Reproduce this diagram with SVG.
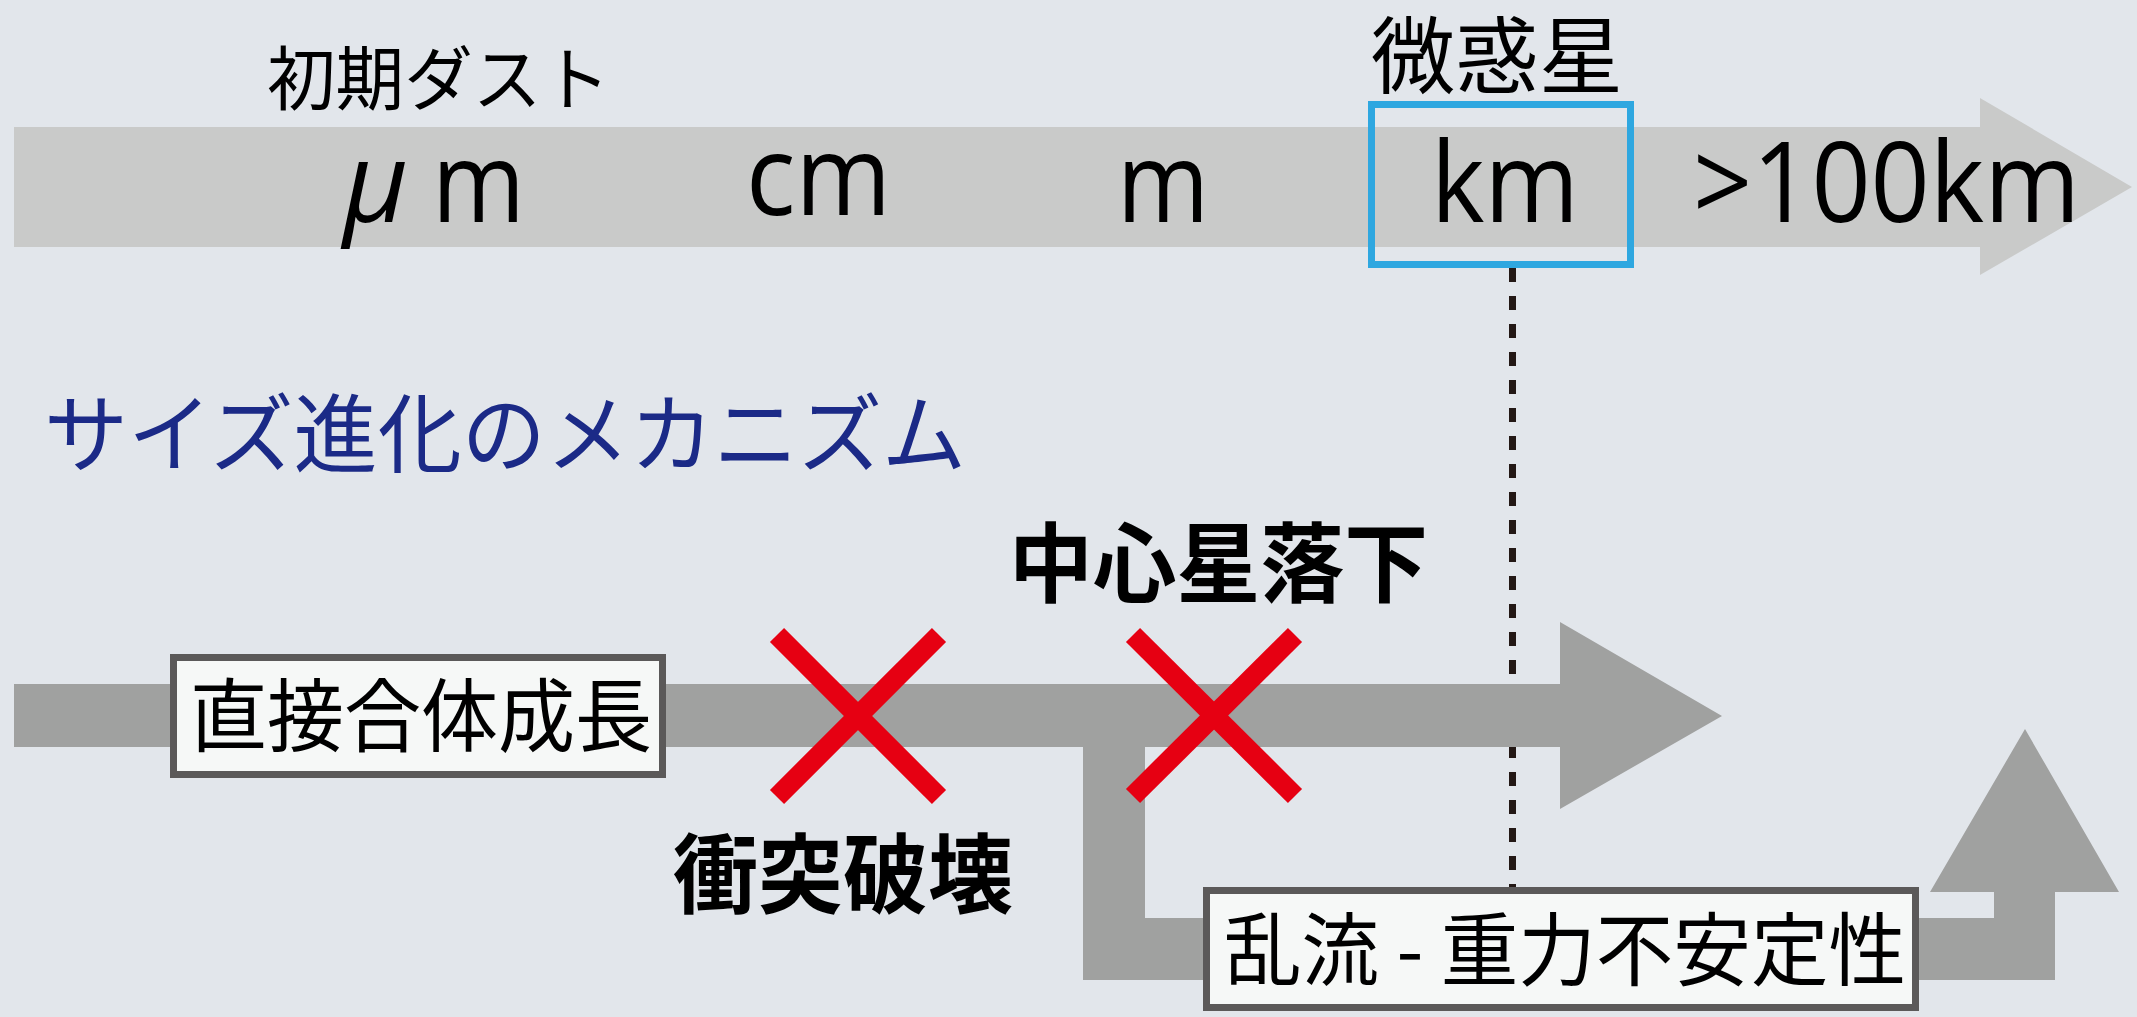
<svg xmlns="http://www.w3.org/2000/svg" width="2137" height="1017" viewBox="0 0 2137 1017">
<defs>
<style>
.jp{font-family:"Noto Sans CJK JP","Noto Sans CJK SC",sans-serif;fill:#000}
.lat{font-family:"Open Sans","Noto Sans",sans-serif;font-size:112px;fill:#000}
.box{fill:#f6f8f7;stroke:#5b5959;stroke-width:7}
.xm{stroke:#e60012;stroke-width:20;fill:none}
.band{fill:#a0a1a0}
</style>
</defs>
<rect width="2137" height="1017" fill="#e2e6eb"/>

<g id="connectors">
<line x1="1512.5" y1="268" x2="1512.5" y2="1017" stroke="#231815" stroke-width="7" stroke-dasharray="14 14"/>
<polygon id="size-axis" points="14,127 1980,127 1980,98 2132,187 1980,275 1980,247 14,247" fill="#c9cac9"/>
<polygon id="direct-path" class="band" points="14,684 1560,684 1560,622 1722,716 1560,809 1560,747 14,747"/>
<polygon id="turb-path" class="band" points="1083,746 1145,746 1145,918 1994,918 1994,892 1930,892 2025,729 2119,892 2055,892 2055,980 1083,980"/>
</g>

<g id="label-dust">
<text class="jp" x="267" y="105" font-size="70" textLength="343" lengthAdjust="spacingAndGlyphs">初期ダスト</text>
</g>
<g id="label-planetesimal">
<text class="jp" x="1371" y="87" font-size="84" textLength="252" lengthAdjust="spacingAndGlyphs">微惑星</text>
<rect x="1371.5" y="104.5" width="259" height="160" fill="none" stroke="#2ea7e0" stroke-width="7"/>
</g>
<g id="scale-um">
<text class="lat" x="343" y="222" font-style="italic">μ</text>
<text class="lat" x="432" y="222" textLength="93" lengthAdjust="spacingAndGlyphs">m</text>
</g>
<g id="scale-cm"><text class="lat" x="746" y="215" textLength="145" lengthAdjust="spacingAndGlyphs">cm</text></g>
<g id="scale-m"><text class="lat" x="1117" y="222" textLength="92" lengthAdjust="spacingAndGlyphs">m</text></g>
<g id="scale-km"><text class="lat" x="1431" y="222" textLength="148" lengthAdjust="spacingAndGlyphs">km</text></g>
<g id="scale-100km"><text class="lat" x="1693" y="222" textLength="387" lengthAdjust="spacingAndGlyphs">&gt;100km</text></g>

<g id="title">
<text class="jp" x="44" y="466" font-size="86" style="fill:#1b2a87" textLength="922" lengthAdjust="spacingAndGlyphs">サイズ進化のメカニズム</text>
</g>

<g id="node-direct">
<rect class="box" x="173.5" y="657.5" width="489" height="117"/>
<text class="jp" x="190" y="745" font-size="80" textLength="462" lengthAdjust="spacingAndGlyphs">直接合体成長</text>
</g>

<g id="barrier-collision">
<line class="xm" x1="777" y1="635" x2="939" y2="797"/>
<line class="xm" x1="939" y1="635" x2="777" y2="797"/>
<text class="jp" x="673" y="907" font-size="87" font-weight="bold" textLength="340" lengthAdjust="spacingAndGlyphs">衝突破壊</text>
</g>

<g id="barrier-drift">
<line class="xm" x1="1133" y1="635" x2="1295" y2="796"/>
<line class="xm" x1="1295" y1="635" x2="1133" y2="796"/>
<text class="jp" x="1009" y="596" font-size="87" font-weight="bold" textLength="419" lengthAdjust="spacingAndGlyphs">中心星落下</text>
</g>

<g id="node-turbulence">
<rect class="box" x="1206.5" y="890.5" width="709" height="117"/>
<text class="jp" x="1224" y="979" font-size="80" textLength="682" lengthAdjust="spacingAndGlyphs">乱流 - 重力不安定性</text>
</g>
</svg>
